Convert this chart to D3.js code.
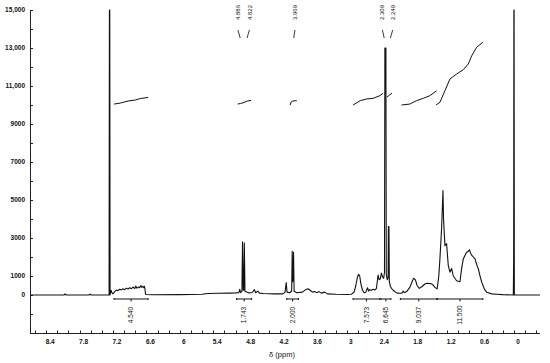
<!DOCTYPE html>
<html>
<head>
<meta charset="utf-8">
<script src="https://cdn.jsdelivr.net/npm/d3@7"></script>
<style>
  html, body { margin: 0; padding: 0; background: #fff; }
  svg { display: block; }
  text { font-family: "Liberation Sans", Arial, sans-serif; fill: #111; }
</style>
</head>
<body>
<div id="chart"></div>
<script>
const width = 550;
const height = 363;

// spectrum as [ppm, intensity]
const spectrum = [
  [8.69, 0], [8.08, 0], [8.06, 60], [8.04, 0], [7.63, 0], [7.61, 50], [7.59, 0],
  [7.27, 0], [7.264, 15000], [7.258, 15000], [7.252, 0],
  [7.235, 250], [7.22, 120], [7.2, 60], [7.17, 180], [7.14, 260], [7.11, 230],
  [7.08, 300], [7.05, 270], [7.02, 330], [6.99, 280], [6.96, 360], [6.93, 310],
  [6.9, 380], [6.87, 330], [6.84, 420], [6.81, 340], [6.79, 470], [6.77, 360],
  [6.74, 420], [6.72, 380], [6.7, 500], [6.68, 400], [6.66, 450], [6.645, 380],
  [6.635, 460], [6.625, 300], [6.615, 30], [6.5, 10],
  [6.0, 20], [5.6, 40], [5.5, 80], [5.3, 90], [5.1, 100], [5.0, 110], [4.94, 120],
  [4.925, 300], [4.91, 120], [4.885, 200], [4.874, 2800], [4.862, 250],
  [4.852, 250], [4.842, 2750], [4.83, 200], [4.79, 150], [4.76, 110], [4.7, 130],
  [4.66, 280], [4.64, 120], [4.6, 200], [4.57, 100], [4.5, 80], [4.3, 60],
  [4.15, 60], [4.11, 150], [4.09, 650], [4.075, 150], [4.03, 120], [3.992, 200],
  [3.982, 2300], [3.974, 700], [3.966, 800], [3.958, 2250], [3.948, 200],
  [3.9, 120], [3.8, 150], [3.74, 280], [3.7, 330], [3.66, 250], [3.62, 150],
  [3.58, 180], [3.54, 120], [3.5, 180], [3.46, 100], [3.4, 150], [3.35, 60],
  [3.2, 40], [3.0, 30], [2.92, 40], [2.87, 150], [2.84, 500], [2.81, 950],
  [2.79, 1090], [2.77, 1000], [2.75, 600], [2.72, 250], [2.69, 120], [2.66, 150],
  [2.63, 380], [2.61, 200], [2.59, 280], [2.56, 250], [2.53, 300], [2.5, 260],
  [2.47, 350], [2.455, 700], [2.44, 1050], [2.42, 800], [2.4, 850], [2.38, 1150],
  [2.36, 950], [2.34, 880], [2.325, 1200], [2.318, 13000], [2.3, 13000],
  [2.293, 1100], [2.275, 800], [2.26, 900], [2.255, 3600], [2.245, 3600],
  [2.238, 700], [2.22, 450], [2.2, 350], [2.17, 250], [2.14, 180], [2.1, 100],
  [2.05, 90], [2.01, 100], [1.99, 210], [1.97, 120], [1.92, 200], [1.87, 400],
  [1.83, 700], [1.8, 880], [1.77, 800], [1.74, 500], [1.7, 350], [1.66, 420],
  [1.6, 580], [1.56, 620], [1.5, 600], [1.46, 550], [1.42, 400], [1.38, 320],
  [1.35, 1000], [1.33, 1900], [1.3, 3500], [1.275, 5500], [1.265, 4000],
  [1.24, 2600], [1.21, 2700], [1.18, 1550], [1.15, 1200], [1.12, 1400],
  [1.09, 1000], [1.03, 750], [0.97, 700], [0.94, 1400], [0.91, 1900],
  [0.87, 2150], [0.85, 2250], [0.82, 2300], [0.8, 2380], [0.78, 2200],
  [0.76, 2100], [0.73, 2000], [0.7, 1900], [0.67, 1600], [0.64, 1370],
  [0.61, 1000], [0.58, 680], [0.53, 300], [0.49, 150], [0.4, 60], [0.31, 40],
  [0.2, 20], [0.012, 0], [0.006, 1800], [0.002, 15000], [-0.002, 15000],
  [-0.006, 0], [-0.467, 0]
];

// integral traces (running integral, drawn up near 10000)
const integralCurves = [
  [[7.18, 10050], [7.07, 10100], [6.93, 10210], [6.8, 10260], [6.71, 10340], [6.57, 10400]],
  [[4.96, 10050], [4.91, 10080], [4.85, 10130], [4.79, 10210], [4.72, 10240]],
  [[4.02, 10000], [4.0, 10160], [3.97, 10210], [3.9, 10230]],
  [[2.89, 10000], [2.76, 10230], [2.64, 10320], [2.53, 10350], [2.41, 10490], [2.35, 10620]],
  [[2.28, 10420], [2.23, 10530], [2.19, 10630]],
  [[2.02, 10000], [1.87, 10050], [1.75, 10230], [1.63, 10350], [1.51, 10490], [1.39, 10750]],
  [[1.4, 10000], [1.33, 10140], [1.24, 10750], [1.15, 11370], [1.03, 11630],
   [0.91, 11860], [0.82, 12160], [0.76, 12590], [0.67, 13040], [0.56, 13300]]
];

const integralRanges = [
  [7.18, 6.57], [4.98, 4.71], [4.08, 3.87], [2.89, 2.41],
  [2.39, 2.21], [2.04, 1.38], [1.38, 0.56]
];
const integralValues = ["4.540", "1.743", "2.000", "7.573", "6.645", "9.037", "11.500"];

const peakShifts = [4.886, 4.822, 3.969, 2.309, 2.249];
const peakLabelShift = [-4, 4, 2, -3, 4];

const yTickValues = [0, 1000, 3000, 5000, 7000, 9000, 11000, 13000, 15000];
const xTickLabels = [8.4, 7.8, 7.2, 6.6, 6, 5.4, 4.8, 4.2, 3.6, 3, 2.4, 1.8, 1.2, 0.6, 0];

function render() {
  const svg = d3.select("#chart")
    .append("svg")
    .attr("width", width)
    .attr("height", height);

  const x = d3.scaleLinear().domain([8.69, -0.467]).range([30, 540]);
  const y = d3.scaleLinear().domain([-2000, 15000]).range([333, 10]);

  // axes
  const axes = svg.append("g").attr("stroke", "#222").attr("stroke-width", 1);
  axes.append("line")
    .attr("x1", 30.5).attr("x2", 30.5)
    .attr("y1", y(15000)).attr("y2", y(-2000));
  axes.append("line")
    .attr("x1", 30).attr("x2", 540)
    .attr("y1", y(-2000) + 0.5).attr("y2", y(-2000) + 0.5);

  axes.selectAll(".ytick")
    .data(d3.range(-2000, 15001, 1000))
    .join("line")
    .attr("x1", 30).attr("x2", 33)
    .attr("y1", (d) => Math.round(y(d)) + 0.5)
    .attr("y2", (d) => Math.round(y(d)) + 0.5);

  axes.selectAll(".xtick")
    .data(d3.range(8.6, -0.45, -0.2))
    .join("line")
    .attr("x1", (d) => Math.round(x(d)) + 0.5)
    .attr("x2", (d) => Math.round(x(d)) + 0.5)
    .attr("y1", y(-2000)).attr("y2", y(-2000) - 2.5);

  const fmt = (d) => (d >= 10000 ? d3.format(",")(d) : String(d));
  svg.append("g")
    .attr("font-size", 6.5)
    .attr("font-weight", "bold")
    .attr("text-anchor", "end")
    .selectAll("text")
    .data(yTickValues)
    .join("text")
    .attr("x", 25)
    .attr("y", (d) => y(d))
    .attr("dy", "0.35em")
    .text(fmt);

  svg.append("g")
    .attr("font-size", 6.5)
    .attr("font-weight", "bold")
    .attr("text-anchor", "middle")
    .selectAll("text")
    .data(xTickLabels)
    .join("text")
    .attr("x", (d) => x(d) + 4)
    .attr("y", 344)
    .text((d) => d);

  svg.append("text")
    .attr("x", 282)
    .attr("y", 357)
    .attr("font-size", 7.5)
    .attr("text-anchor", "middle")
    .text("δ (ppm)");

  // spectrum
  const line = d3.line().x((d) => x(d[0])).y((d) => y(d[1]));
  svg.append("path")
    .datum(spectrum)
    .attr("fill", "none")
    .attr("stroke", "#111")
    .attr("stroke-width", 1.1)
    .attr("stroke-linejoin", "round")
    .attr("d", line);

  svg.append("g")
    .attr("fill", "none")
    .attr("stroke", "#111")
    .attr("stroke-width", 1)
    .selectAll("path")
    .data(integralCurves)
    .join("path")
    .attr("d", line);

  // integration brackets under the baseline
  const by = y(-210);
  const br = svg.append("g").attr("stroke", "#111").attr("stroke-width", 1);
  br.selectAll(".bar")
    .data(integralRanges)
    .join("line")
    .attr("x1", (d) => x(d[0])).attr("x2", (d) => x(d[1]))
    .attr("y1", by).attr("y2", by);
  br.selectAll(".mid")
    .data(integralRanges)
    .join("line")
    .attr("x1", (d) => x((d[0] + d[1]) / 2)).attr("x2", (d) => x((d[0] + d[1]) / 2))
    .attr("y1", by).attr("y2", by + 2.5);
  br.selectAll(".end")
    .data(integralRanges.flat())
    .join("line")
    .attr("x1", (d) => x(d)).attr("x2", (d) => x(d))
    .attr("y1", by - 1).attr("y2", by + 1);

  svg.append("g")
    .attr("font-size", 6.5)
    .attr("text-anchor", "middle")
    .selectAll("text")
    .data(integralRanges)
    .join("text")
    .attr("transform", (d) => `translate(${x((d[0] + d[1]) / 2)},315) rotate(-90)`)
    .attr("dy", "0.35em")
    .text((d, i) => integralValues[i]);

  // peak picks at the top
  svg.append("g")
    .attr("font-size", 6)
    .attr("text-anchor", "middle")
    .selectAll("text")
    .data(peakShifts)
    .join("text")
    .attr("transform", (d, i) => `translate(${x(d) + peakLabelShift[i]},12.5) rotate(-90)`)
    .attr("dy", "0.35em")
    .text((d) => d.toFixed(3));

  svg.append("g")
    .attr("stroke", "#222")
    .attr("stroke-width", 0.9)
    .selectAll("line")
    .data(peakShifts)
    .join("line")
    .attr("x1", (d, i) => x(d) + peakLabelShift[i])
    .attr("x2", (d, i) => x(d) + peakLabelShift[i] * 0.4)
    .attr("y1", 30)
    .attr("y2", 38);
}

render();
</script>
</body>
</html>
